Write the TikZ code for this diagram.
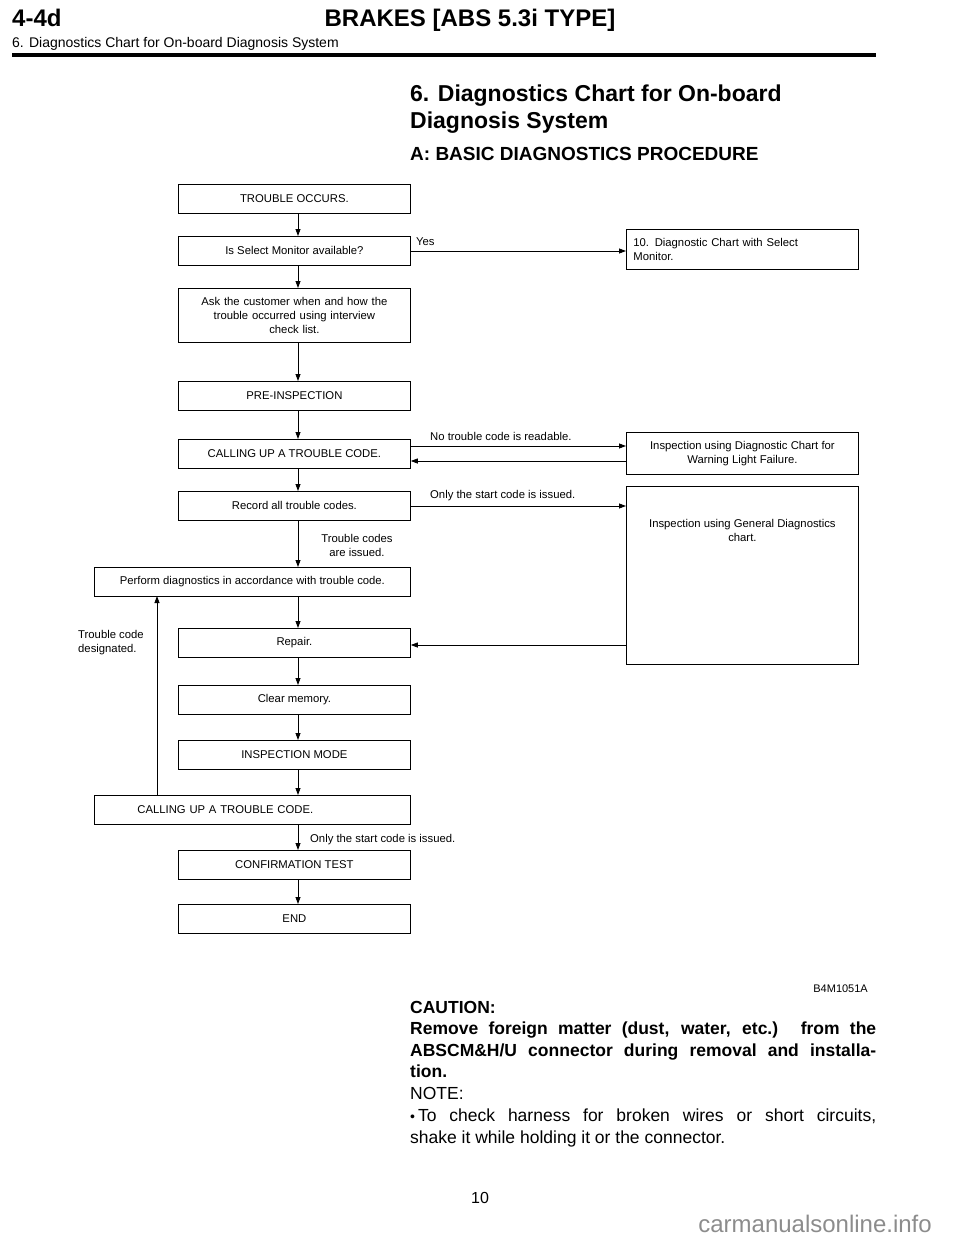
\documentclass[tikz,border=0pt]{standalone}
\usepackage{fontspec}
\setmainfont{Liberation Sans}
\usetikzlibrary{arrows.meta}
\begin{document}
\begin{tikzpicture}[x=1pt,y=-1pt,
  bx/.style={draw,line width=0.8pt,anchor=north west,inner sep=0pt,font=\fontsize{11.3}{14}\selectfont},
  ar/.style={line width=0.8pt,-{Triangle[length=7pt,width=5pt]}},
  lb/.style={font=\fontsize{11.3}{14}\selectfont,inner sep=0pt}]
\useasboundingbox (0,0) rectangle (960,1242);
% header
\node[anchor=base west,font=\fontsize{24}{26}\bfseries\selectfont,inner sep=0] (h1) at (12,27) {4-4d};
\node[anchor=base,font=\fontsize{24}{26}\bfseries\selectfont,inner sep=0] (h2) at (470,27) {BRAKES [ABS 5.3i TYPE]};
\node[anchor=base west,font=\fontsize{14}{16}\selectfont,inner sep=0] (h3) at (12,47) {6. Diagnostics Chart for On-board Diagnosis System};
\draw[line width=3.5pt] (12,55) -- (876,55);
% title
\node[anchor=base west,font=\fontsize{23}{26}\bfseries\selectfont,inner sep=0] (t1) at (410,101) {6. Diagnostics Chart for On-board};
\node[anchor=base west,font=\fontsize{23}{26}\bfseries\selectfont,inner sep=0] (t2) at (410,128) {Diagnosis System};
\node[anchor=base west,font=\fontsize{19}{22}\bfseries\selectfont,inner sep=0] (t3) at (410,160) {A: BASIC DIAGNOSTICS PROCEDURE};
% boxes
\node[bx,minimum width=232pt,minimum height=29pt] (b1) at (178,184) {TROUBLE OCCURS.};
\node[bx,minimum width=232pt,minimum height=29pt] (b2) at (178,236) {Is Select Monitor available?};
\node[bx,minimum width=232pt,minimum height=40pt,align=left,text width=226pt] (r1) at (626,229) {\hspace*{4pt}10. Diagnostic Chart with Select\\\hspace*{4pt}Monitor.};
\node[bx,minimum width=232pt,minimum height=54pt,align=center,text width=230pt] (b3) at (178,288) {Ask the customer when and how the\\trouble occurred using interview\\check list.\hspace*{90pt}};
\node[bx,minimum width=232pt,minimum height=29pt] (b4) at (178,381) {PRE-INSPECTION};
\node[bx,minimum width=232pt,minimum height=29pt] (b5) at (178,439) {CALLING UP A TROUBLE CODE.};
\node[bx,minimum width=232pt,minimum height=42pt,align=center] (r2) at (626,432) {Inspection using Diagnostic Chart for\\Warning Light Failure.};
\node[bx,minimum width=232pt,minimum height=29pt] (b6) at (178,491) {Record all trouble codes.};
\node[bx,minimum width=232pt,minimum height=178pt,align=center] (r3) at (626,486) {Inspection using General Diagnostics\\chart.\\[76pt]};
\node[bx,minimum width=316pt,minimum height=29pt] (b7) at (94,567) {Perform diagnostics in accordance with trouble code.};
\node[bx,minimum width=232pt,minimum height=29pt] (b8) at (178,628) {Repair.};
\node[bx,minimum width=232pt,minimum height=29pt] (b9) at (178,685) {Clear memory.};
\node[bx,minimum width=232pt,minimum height=29pt] (b10) at (178,740) {INSPECTION MODE};
\node[bx,minimum width=316pt,minimum height=29pt,align=left,text width=310pt] (b11) at (94,795) {\hspace*{40pt}CALLING UP A TROUBLE CODE.};
\node[bx,minimum width=232pt,minimum height=29pt] (b12) at (178,850) {CONFIRMATION TEST};
\node[bx,minimum width=232pt,minimum height=29pt] (b13) at (178,904) {END};
% vertical arrows
\foreach \a/\b in {b1/b2,b2/b3,b3/b4,b4/b5,b5/b6,b6/b7,b7/b8,b8/b9,b9/b10,b10/b11,b11/b12,b12/b13}
  \draw[ar] (298,0 |- \a.south) -- (298,0 |- \b.north);
% horizontal
\draw[ar] (410,251) -- (r1.west |- 0,251);
\draw[ar] (410,446) -- (r2.west |- 0,446);
\draw[ar] (626,461) -- (b5.east |- 0,461);
\draw[ar] (410,506) -- (r3.west |- 0,506);
\draw[ar] (626,645) -- (b8.east |- 0,645);
\draw[ar] (157,795) -- (157,596);
% labels
\node[lb,anchor=west] (l1) at (416,242) {Yes};
\node[lb,anchor=west] (l2) at (430,436) {No trouble code is readable.};
\node[lb,anchor=west] (l3) at (430,496) {Only the start code is issued.};
\node[lb,align=center] (l4) at (357,545) {Trouble codes\\are issued.};
\node[lb,align=left,anchor=west] (l5) at (78,643) {Trouble code\\designated.};
\node[lb,anchor=west] (l6) at (310,840) {Only the start code is issued.};
\node[anchor=base east,font=\fontsize{11}{13}\selectfont,inner sep=0] (fig) at (868,992) {B4M1051A};
% caution
\node[anchor=north west,inner sep=0,text width=466pt,align=justify,font=\fontsize{17.5}{21.5}\bfseries\selectfont] (c1) at (410,1001) {CAUTION:\\Remove foreign matter (dust, water, etc.) from the\linebreak ABSCM\&H/U connector during removal and installa-\linebreak tion.};
\node[anchor=north west,inner sep=0,text width=466pt,align=justify,font=\fontsize{17.5}{22}\selectfont] (n1) at (410,1087) {NOTE:\\{\fontsize{14}{14}\selectfont\textbullet}\,To check harness for broken wires or short circuits,\linebreak shake it while holding it or the connector.};
\node[font=\fontsize{16}{18}\selectfont,inner sep=0] (pg) at (480,1198) {10};
\node[anchor=east,font=\fontsize{24}{26}\selectfont,text=black!45,inner sep=0] (wm) at (932,1224) {carmanualsonline.info};
\end{tikzpicture}
\end{document}
